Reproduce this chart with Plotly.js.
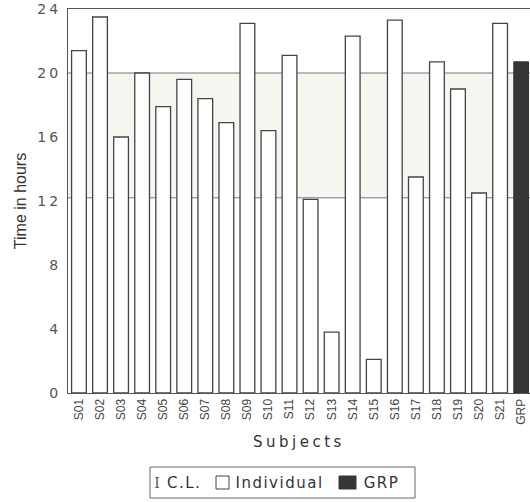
<!DOCTYPE html>
<html>
<head>
<meta charset="utf-8">
<script src="https://cdn.plot.ly/plotly-3.0.1.min.js"></script>
<style>
html,body{margin:0;padding:0;background:#fff;}
#chart{width:530px;height:502px;}
#chart .ytick text{letter-spacing:3px;}
#chart .xtitle{letter-spacing:3.5px;}
#chart .annotation text{letter-spacing:1.5px;}
</style>
</head>
<body>
<div id="chart"></div>
<script>
const subjects = ["S01","S02","S03","S04","S05","S06","S07","S08","S09","S10","S11","S12","S13","S14","S15","S16","S17","S18","S19","S20","S21"];
const individualHours = [21.4,23.5,16.0,20.0,17.9,19.6,18.4,16.9,23.1,16.4,21.1,12.1,3.8,22.3,2.1,23.3,13.5,20.7,19.0,12.5,23.1];
const groupLabel = ["GRP"];
const groupHours = [20.7];
const clLower = 12.2;
const clUpper = 20.0;
const yTicks = [0,4,8,12,16,20,24];
const legendLabels = ["C.L.", "Individual", "GRP"];

const allCats = subjects.concat(groupLabel);
const fontFam = "Arial, 'Liberation Sans', Helvetica, sans-serif";
const wideFam = "'DejaVu Sans', Verdana, sans-serif";

// pixel -> paper helpers for the hand-built legend (plot area 68..530 x, 9..393 y)
const PL = 68, PW = 462, PB = 393, PH = 384;
const px = v => (v - PL) / PW;
const py = v => (PB - v) / PH;

const traces = [
  {
    type: "bar", name: "Individual",
    x: subjects, y: individualHours,
    marker: {color: "#ffffff", line: {color: "#444444", width: 1.3}}
  },
  {
    type: "bar", name: "GRP",
    x: groupLabel, y: groupHours,
    marker: {color: "#363636", line: {color: "#363636", width: 1}}
  }
];

const legY = 483;
const layout = {
  width: 530, height: 502,
  margin: {l: 68, r: 0, t: 9, b: 109},
  paper_bgcolor: "#ffffff", plot_bgcolor: "#ffffff",
  font: {family: fontFam, color: "#333", size: 12},
  barmode: "overlay",
  bargap: 0.3,
  showlegend: false,
  xaxis: {
    type: "category", categoryorder: "array", categoryarray: allCats,
    range: [-0.52, 21.42],
    tickangle: -90, tickfont: {size: 12, color: "#444"},
    showline: true, linecolor: "#555", linewidth: 1, mirror: true,
    ticks: "", showgrid: false, zeroline: false,
    title: {text: "Subjects", font: {family: wideFam, size: 15, color: "#333"}, standoff: 12}
  },
  yaxis: {
    range: [0, 24], tickvals: yTicks, ticktext: yTicks.map(String),
    tickfont: {family: wideFam, size: 14, color: "#555"},
    showline: true, linecolor: "#555", linewidth: 1, mirror: false,
    ticks: "", ticklabelstandoff: 3, showgrid: false, zeroline: false,
    title: {text: "Time in hours", font: {family: fontFam, size: 16, color: "#333"}, standoff: 12}
  },
  shapes: [
    {type: "rect", xref: "paper", yref: "y", x0: 0, x1: 1, y0: clLower, y1: clUpper,
     fillcolor: "#f6f6f1", line: {width: 0}, layer: "below"},
    {type: "line", xref: "paper", yref: "y", x0: 0, x1: 1, y0: clUpper, y1: clUpper,
     line: {color: "#777", width: 1}, layer: "below"},
    {type: "line", xref: "paper", yref: "y", x0: 0, x1: 1, y0: clLower, y1: clLower,
     line: {color: "#777", width: 1}, layer: "below"},
    // legend frame
    {type: "rect", xref: "paper", yref: "paper", x0: px(150), x1: px(415), y0: py(498), y1: py(467),
     fillcolor: "rgba(0,0,0,0)", line: {color: "#666", width: 1}},
    // legend icons
    {type: "rect", xref: "paper", yref: "paper", x0: px(216), x1: px(229), y0: py(489), y1: py(476),
     fillcolor: "#ffffff", line: {color: "#444", width: 1}},
    {type: "rect", xref: "paper", yref: "paper", x0: px(339), x1: px(356), y0: py(489), y1: py(476),
     fillcolor: "#363636", line: {color: "#363636", width: 1}}
  ],
  annotations: [
    {xref: "paper", yref: "paper", x: px(158), y: py(legY), xanchor: "center", yanchor: "middle",
     text: "I", showarrow: false, font: {family: "'DejaVu Serif', 'Liberation Serif', serif", size: 14, color: "#555"}},
    {xref: "paper", yref: "paper", x: px(184), y: py(legY), xanchor: "center", yanchor: "middle",
     text: legendLabels[0], showarrow: false, font: {family: wideFam, size: 15, color: "#333"}},
    {xref: "paper", yref: "paper", x: px(279), y: py(legY), xanchor: "center", yanchor: "middle",
     text: legendLabels[1], showarrow: false, font: {family: wideFam, size: 15, color: "#333"}},
    {xref: "paper", yref: "paper", x: px(381), y: py(legY), xanchor: "center", yanchor: "middle",
     text: legendLabels[2], showarrow: false, font: {family: wideFam, size: 15, color: "#333"}}
  ]
};

Plotly.newPlot("chart", traces, layout, {displayModeBar: false, staticPlot: true});
</script>
</body>
</html>
